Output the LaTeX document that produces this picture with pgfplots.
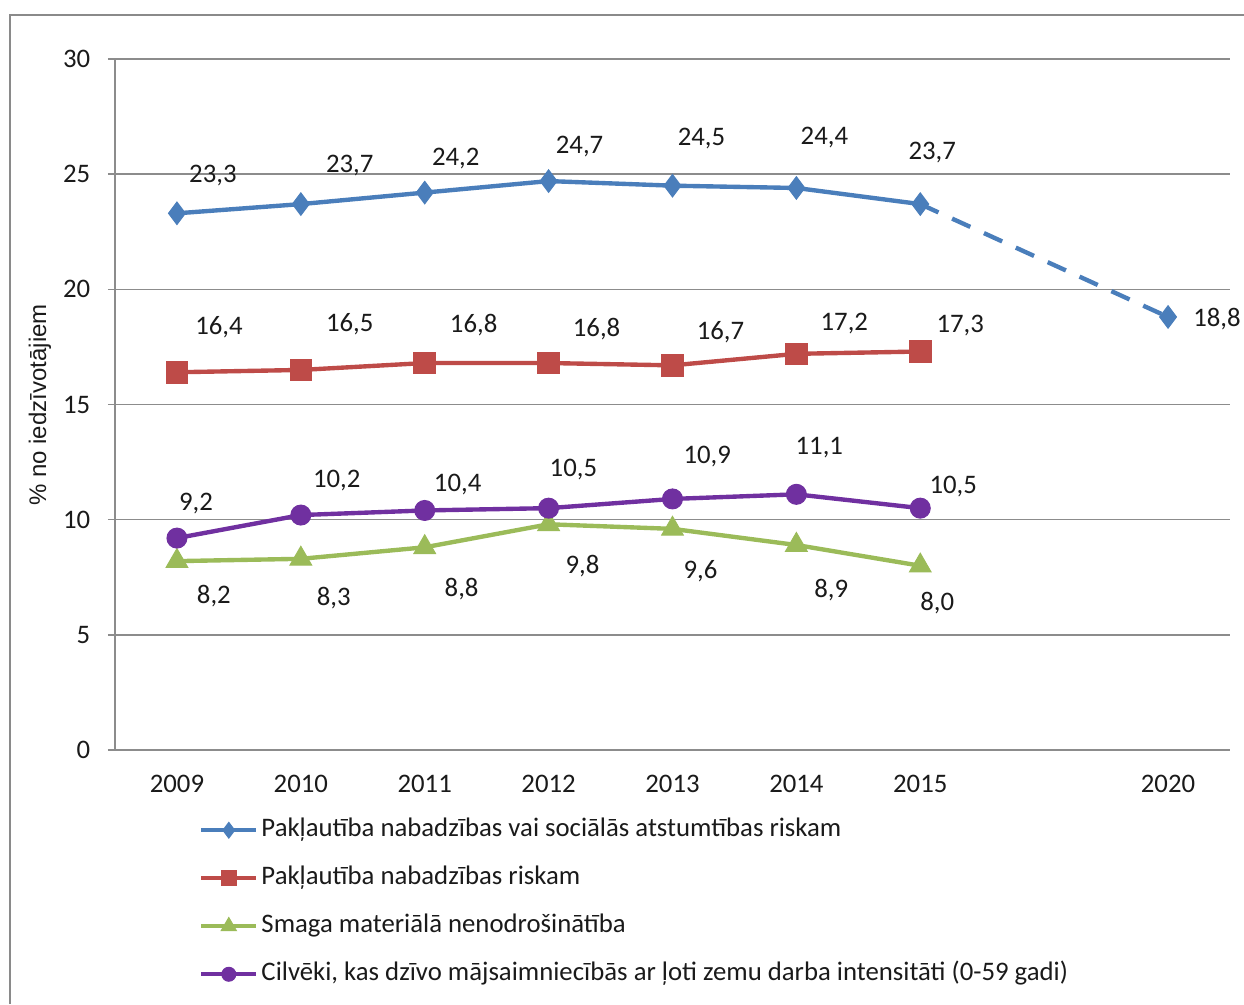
\documentclass[border=0pt]{standalone}
\usepackage{pgfplots}
\pgfplotsset{compat=1.18}
\usepackage{fontspec}
\setmainfont{Carlito}
\newfontfamily\axisfont{Liberation Sans}
\usetikzlibrary{plotmarks}

\definecolor{cblue}{HTML}{4A7EBB}
\definecolor{cred}{HTML}{BE4B48}
\definecolor{cgreen}{HTML}{9BBB59}
\definecolor{cpurple}{HTML}{7030A0}
\definecolor{cgrid}{HTML}{8C8C8C}
\definecolor{cframe}{HTML}{8A8A8A}
\definecolor{ctext}{HTML}{1A1A1A}

\begin{document}
\begin{tikzpicture}[lbl/.style={font=\fontsize{10.7}{12.8}\selectfont, text=ctext, inner sep=0pt}]
\useasboundingbox (0,0) rectangle (497.6pt,401.6pt);
% outer chart frame
\draw[cframe, line width=0.8pt] (4pt,0pt) -- (4pt,395.6pt) -- (500pt,395.6pt);

\begin{axis}[
  at={(46pt,101.6pt)}, anchor=south west,
  scale only axis, width=446pt, height=276.4pt,
  clip=false,
  xmin=-0.5, xmax=8.5, ymin=0, ymax=30,
  axis x line*=bottom, axis y line*=left,
  axis line style={cgrid, line width=0.6pt},
  xtick={0,1,2,3,4,5,6,8},
  xticklabels={2009,2010,2011,2012,2013,2014,2015,2020},
  minor xtick={-0.5,0.5,...,8.5},
  xtick style={draw=none},
  minor x tick style={cgrid, line width=0.6pt},
  minor tick length=2.8pt,
  ytick={0,5,...,30},
  y tick style={cgrid, line width=0.6pt},
  major tick length=2.8pt,
  tick align=outside,
  ymajorgrids, grid style={cgrid, line width=0.6pt},
  tick label style={font=\fontsize{10.7}{12.8}\selectfont, text=ctext},
  /pgf/number format/assume math mode=true,
  xticklabel style={yshift=-3.6pt},
  yticklabel style={xshift=-3.6pt},
  legend style={draw=none, fill=none, at={(0.075,-0.093)}, anchor=north west,
    inner sep=0pt, row sep=6.8pt, font=\fontsize{10.7}{12.8}\selectfont,
    nodes={text height=7.5pt, text depth=2.5pt, inner sep=1.2pt, text=ctext},
    cells={anchor=west}},
  legend image code/.code={\draw[#1, every mark/.append style={scale=0.7}, mark repeat=2, mark phase=2]
    plot coordinates {(0pt,0pt)(11pt,0pt)(22pt,0pt)};},
  every axis plot/.append style={line width=1.75pt},
]
% risk of poverty or social exclusion
\addplot[cblue, mark=diamond*, mark size=4.5pt, mark options={solid, fill=cblue, line width=0.4pt}]
  coordinates {(0,23.3)(1,23.7)(2,24.2)(3,24.7)(4,24.5)(5,24.4)(6,23.7)};
\addlegendentry{Pakļautība nabadzības vai sociālās atstumtības riskam}
% at-risk-of-poverty rate
\addplot[cred, mark=square*, mark size=4.3pt, mark options={solid, fill=cred, line width=0.4pt}]
  coordinates {(0,16.4)(1,16.5)(2,16.8)(3,16.8)(4,16.7)(5,17.2)(6,17.3)};
\addlegendentry{Pakļautība nabadzības riskam}
% severe material deprivation
\addplot[cgreen, mark=triangle*, mark size=5pt, mark options={solid, fill=cgreen, line width=0.4pt}]
  coordinates {(0,8.2)(1,8.3)(2,8.8)(3,9.8)(4,9.6)(5,8.9)(6,8.0)};
\addlegendentry{Smaga materiālā nenodrošinātība}
% very low work intensity households
\addplot[cpurple, mark=*, mark size=4pt, mark options={solid, fill=cpurple, line width=0.4pt}]
  coordinates {(0,9.2)(1,10.2)(2,10.4)(3,10.5)(4,10.9)(5,11.1)(6,10.5)};
\addlegendentry{Cilvēki, kas dzīvo mājsaimniecībās ar ļoti zemu darba intensitāti (0-59 gadi)}
% 2020 target, dashed
\addplot[cblue, forget plot, dash pattern=on 8pt off 6pt, mark=diamond*, mark size=4.5pt,
  mark indices={2}, mark options={solid, fill=cblue, line width=0.4pt}]
  coordinates {(6,23.7)(8,18.8)};

% value labels
\node[lbl] at (axis cs:0.29,24.92) {23,3};
\node[lbl] at (axis cs:1.395,25.36) {23,7};
\node[lbl] at (axis cs:2.25,25.70) {24,2};
\node[lbl] at (axis cs:3.25,26.18) {24,7};
\node[lbl] at (axis cs:4.234,26.53) {24,5};
\node[lbl] at (axis cs:5.226,26.57) {24,4};
\node[lbl] at (axis cs:6.097,25.92) {23,7};
\node[lbl] at (axis cs:8.395,18.71) {18,8};

\node[lbl] at (axis cs:0.339,18.37) {16,4};
\node[lbl] at (axis cs:1.395,18.50) {16,5};
\node[lbl] at (axis cs:2.395,18.45) {16,8};
\node[lbl] at (axis cs:3.387,18.28) {16,8};
\node[lbl] at (axis cs:4.387,18.15) {16,7};
\node[lbl] at (axis cs:5.387,18.50) {17,2};
\node[lbl] at (axis cs:6.323,18.45) {17,3};

\node[lbl] at (axis cs:0.153,10.72) {9,2};
\node[lbl] at (axis cs:1.29,11.68) {10,2};
\node[lbl] at (axis cs:2.266,11.51) {10,4};
\node[lbl] at (axis cs:3.2,12.16) {10,5};
\node[lbl] at (axis cs:4.28,12.76) {10,9};
\node[lbl] at (axis cs:5.185,13.11) {11,1};
\node[lbl] at (axis cs:6.266,11.46) {10,5};

\node[lbl] at (axis cs:0.298,6.69) {8,2};
\node[lbl] at (axis cs:1.266,6.60) {8,3};
\node[lbl] at (axis cs:2.298,6.99) {8,8};
\node[lbl] at (axis cs:3.274,7.99) {9,8};
\node[lbl] at (axis cs:4.226,7.77) {9,6};
\node[lbl] at (axis cs:5.282,6.95) {8,9};
\node[lbl] at (axis cs:6.137,6.38) {8,0};
\end{axis}

% vertical axis title
\node[rotate=90, font=\axisfont\fontsize{9.6}{11.5}\selectfont, text=ctext] at (16pt,239.6pt) {\% no iedzīvotājiem};
\end{tikzpicture}
\end{document}
